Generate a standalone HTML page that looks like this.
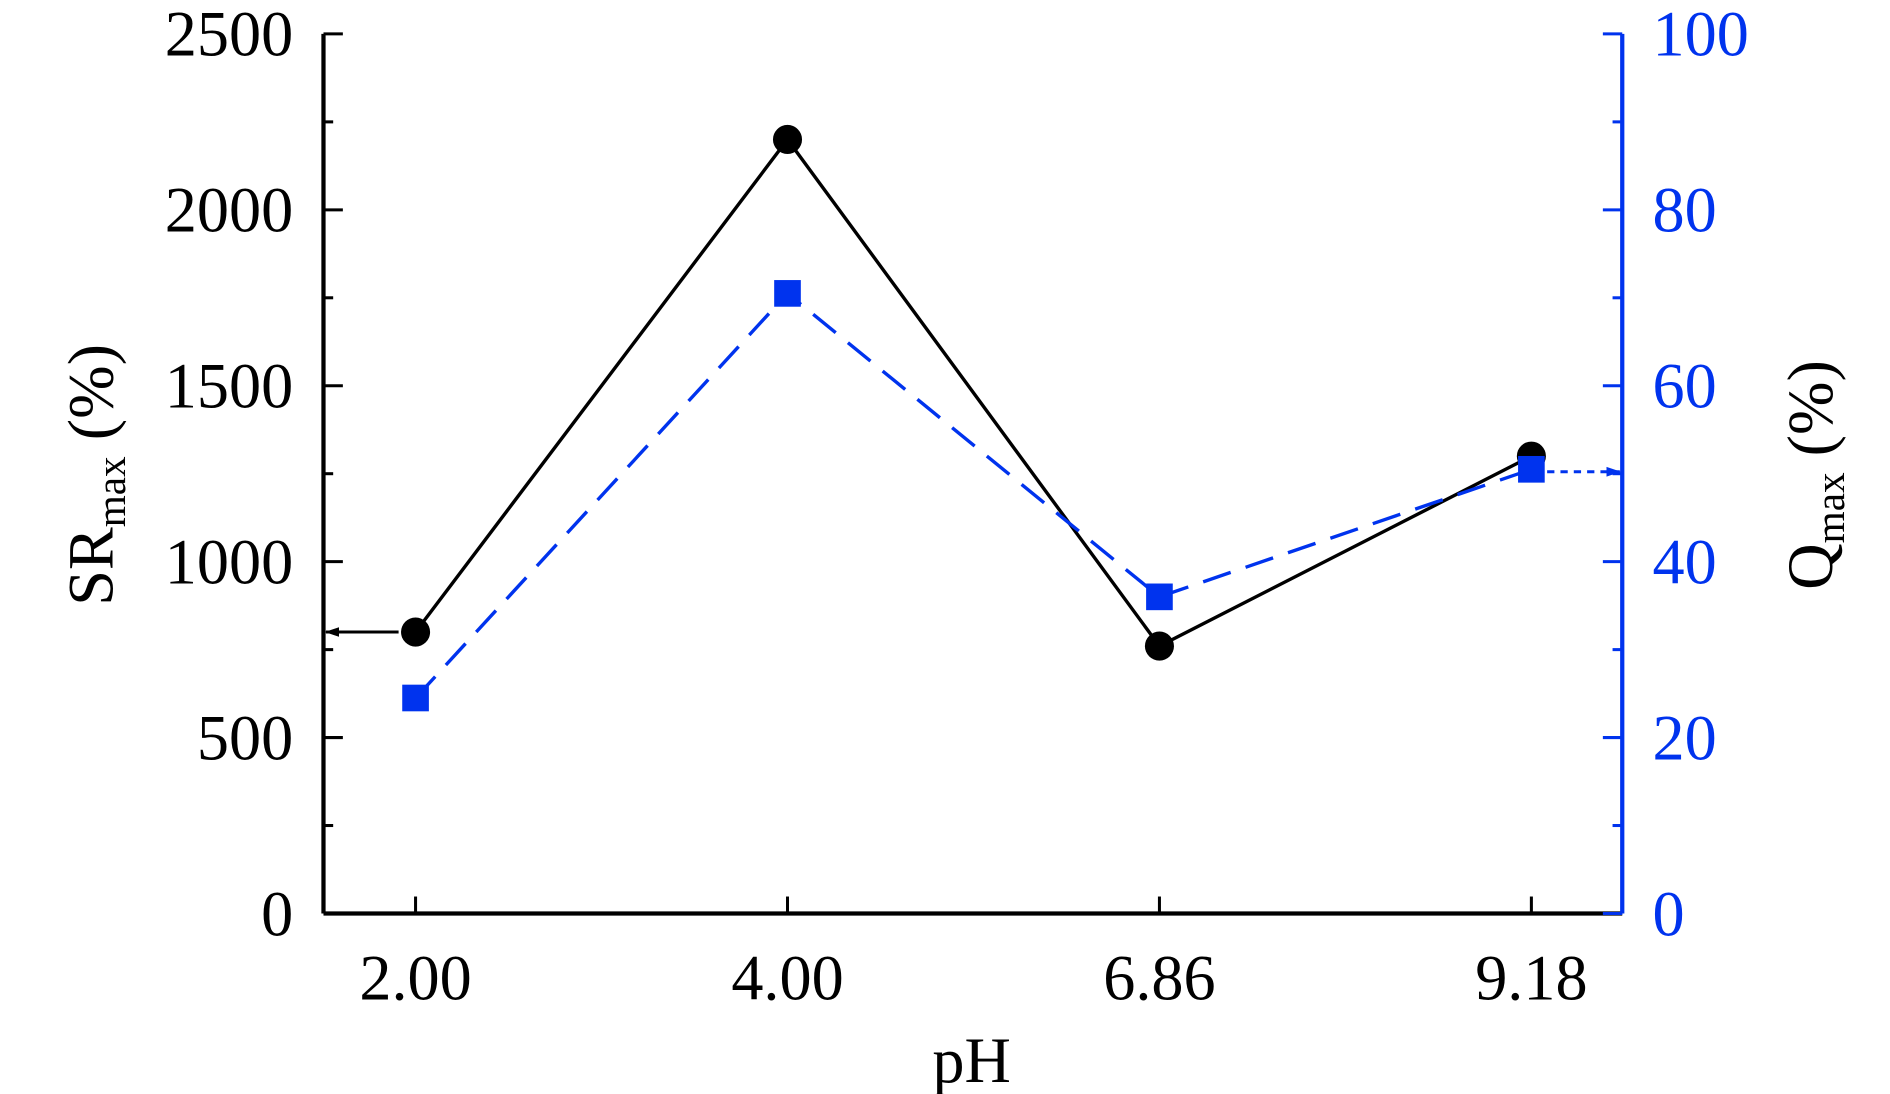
<!DOCTYPE html>
<html><head><meta charset="utf-8"><style>html,body{margin:0;padding:0;background:#fff}svg{display:block}</style></head>
<body>
<svg id="chart" width="1890" height="1094" viewBox="0 0 1560 903" preserveAspectRatio="none" xmlns="http://www.w3.org/2000/svg" font-family="'Liberation Serif', serif">
<defs>
<marker id="ab" markerWidth="12" markerHeight="10" refX="11" refY="5" orient="auto" markerUnits="userSpaceOnUse"><path d="M0,1 L12,5 L0,9 z" fill="#000"/></marker>
<marker id="au" markerWidth="12" markerHeight="10" refX="11" refY="5" orient="auto" markerUnits="userSpaceOnUse"><path d="M0,1 L12,5 L0,9 z" fill="#0033ee"/></marker>
</defs>
<g id="plot"></g>
</svg>
<script>
const categories = ["2.00","4.00","6.86","9.18"];
const srValues = [800, 2200, 760, 1300];
const qValues = [24.5, 70.5, 36, 50.5];
const leftTicks = [0,500,1000,1500,2000,2500];
const rightTicks = [0,20,40,60,80,100];

const L=267,R=1339,T=28,B=754,blue="#0033ee";
const xs=i=>343+i*307;
const yL=v=>B-(v/2500)*(B-T);
const yR=v=>B-(v/100)*(B-T);
const g=document.getElementById('plot');
const NS="http://www.w3.org/2000/svg";
function mk(tag,attrs,parent){const e=document.createElementNS(NS,tag);for(const k in attrs)e.setAttribute(k,attrs[k]);(parent||g).appendChild(e);return e;}

let e;
e=mk('line',{x1:L,y1:T,x2:L,y2:B,stroke:'#000','stroke-width':3.5});


e=mk('line',{x1:L,y1:B,x2:R,y2:B,stroke:'#000','stroke-width':3.5});


e=mk('line',{x1:R,y1:T,x2:R,y2:B,stroke:blue,'stroke-width':3.5});



for(let v=0;v<=2500;v+=250){const y=yL(v);const major=v%500===0;
 e=mk('line',{x1:L,y1:y,x2:L+(major?16:8),y2:y,stroke:'#000','stroke-width':2.5});
 
 }
leftTicks.forEach(v=>{e=mk('text',{x:242,y:yL(v)+18,'text-anchor':'end','font-size':53,fill:'#000'});e.textContent=v;
 
 });
for(let v=0;v<=100;v+=10){const y=yR(v);const major=v%20===0;
 e=mk('line',{x1:R,y1:y,x2:R-(major?16:8),y2:y,stroke:blue,'stroke-width':2.5});
 
 }
rightTicks.forEach(v=>{e=mk('text',{x:1364,y:yR(v)+18,'text-anchor':'start','font-size':53,fill:blue});e.textContent=v;
 
 });
categories.forEach((c,i)=>{
 e=mk('line',{x1:xs(i),y1:B,x2:xs(i),y2:B-14,stroke:'#000','stroke-width':2.5});
 
 
 e=mk('text',{x:xs(i),y:825,'text-anchor':'middle','font-size':53,fill:'#000'});e.textContent=c;
 
 });

e=mk('text',{x:802,y:893,'text-anchor':'middle','font-size':53,fill:'#000'});e.textContent='pH';


e=mk('text',{transform:'translate(93,392) rotate(-90)','text-anchor':'middle','font-size':53,fill:'#000'});
e.innerHTML='SR<tspan font-size="34" dy="10">max</tspan><tspan dy="-10"> (%)</tspan>';


e=mk('text',{transform:'translate(1512,392) rotate(-90)','text-anchor':'middle','font-size':53,fill:'#000'});
e.innerHTML='Q<tspan font-size="34" dy="10">max</tspan><tspan dy="-10"> (%)</tspan>';



e=mk('polyline',{points:srValues.map((v,i)=>xs(i)+','+yL(v)).join(' '),fill:'none',stroke:'#000','stroke-width':2.8});


e=mk('polyline',{points:qValues.map((v,i)=>xs(i)+','+yR(v)).join(' '),fill:'none',stroke:blue,'stroke-width':2.8,'stroke-dasharray':'24,13'});


srValues.forEach((v,i)=>{e=mk('circle',{cx:xs(i),cy:yL(v),r:12,fill:'#000'});
 
 });
qValues.forEach((v,i)=>{e=mk('rect',{x:xs(i)-11,y:yR(v)-11,width:22,height:22,fill:blue});
 
 });

e=mk('line',{x1:xs(0)-14,y1:yL(srValues[0]),x2:L+2,y2:yL(srValues[0]),stroke:'#000','stroke-width':2.5,'marker-end':'url(#ab)'});


const qi=qValues.length-1;
e=mk('line',{x1:xs(qi)+13,y1:yR(qValues[qi])+2,x2:R-2,y2:yR(qValues[qi])+2,stroke:blue,'stroke-width':2.5,'stroke-dasharray':'6,5','marker-end':'url(#au)'});


</script>
</body></html>
